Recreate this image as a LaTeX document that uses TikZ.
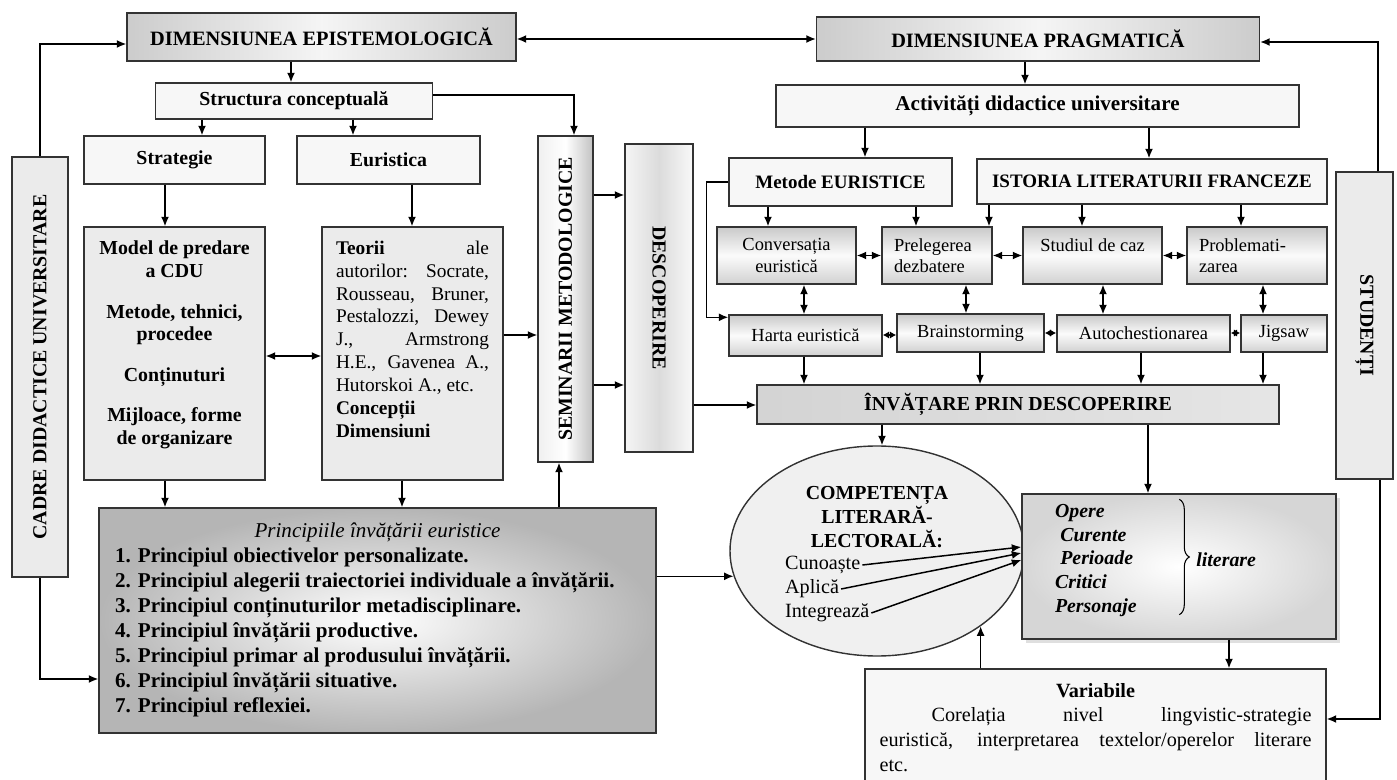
\documentclass[tikz,border=0pt]{standalone}
\usepackage{graphicx}
\usepackage{fontspec}
\setmainfont{Liberation Serif}
\usepackage{tikz}
\usetikzlibrary{arrows.meta,positioning,calc,shapes.geometric,shadows,decorations.pathreplacing}
\newcommand{\pxl}{0.02cm}
\newcommand{\jline}[1]{\makebox[\linewidth][s]{#1}}
\tikzset{
    sz/.style 2 args={minimum width=#1*\pxl, minimum height=#2*\pxl},
    base/.style={rectangle, draw=black!80, line width=0.8pt, inner sep=0pt, align=center,
                 font=\fontsize{11.3}{13}\selectfont\bfseries},
    lite/.style={base, fill=gray!6},
    dark/.style={base, fill=gray!16},
    head/.style={base, left color=gray!40, right color=gray!40, middle color=gray!8,
                 font=\fontsize{11.6}{13}\selectfont\bfseries},
    meth/.style={base, top color=gray!42, bottom color=gray!36, middle color=gray!3,
                 font=\fontsize{10.5}{12.2}\selectfont},
    vbar/.style={base, left color=gray!12, right color=gray!48, middle color=white},
    arr/.style={-{Latex[length=0.19cm,width=0.16cm]}, line width=0.85pt},
    dbl/.style={{Latex[length=0.19cm,width=0.16cm]}-{Latex[length=0.19cm,width=0.16cm]}, line width=0.85pt},
    sdbl/.style={{Latex[length=0.13cm,width=0.15cm]}-{Latex[length=0.13cm,width=0.15cm]}, line width=0.85pt},
    word/.style={inner sep=1pt, anchor=west, font=\fontsize{11.5}{13}\selectfont},
}
\begin{document}
\begin{tikzpicture}[x=0.02cm, y=-0.02cm]
    \useasboundingbox (0,0) rectangle (1397,780);

    \node[head, sz={389}{48}] (epist) at (321.5,37) {DIMENSIUNEA EPISTEMOLOGICĂ};
    \node[head, sz={443}{44}] (prag)  at (1038,39)  {DIMENSIUNEA PRAGMATICĂ};
    \node[lite, sz={277}{36}] (struct) at (294,101) {Structura conceptuală};
    \node[lite, sz={181}{48}] (strat) at (174.5,160) {Strategie};
    \node[lite, sz={183}{48}] (eur)   at (388.5,160) {Euristica};
    \node[dark, sz={181}{253}] (model) at (174.5,353.5)
        {\parbox[c][4.5cm][t]{3.4cm}{\centering Model de predare\\ a CDU\\[10pt]
         Metode, tehnici,\\ procedee\\[10pt] Conținuturi\\[10pt] Mijloace, forme\\ de organizare}};
    \node[dark, sz={181}{253}, font=\fontsize{11}{13}\selectfont] (teorii) at (412.5,353.5)
        {\parbox[c][4.5cm][t]{3.06cm}{\jline{\textbf{Teorii} ale}\\ \jline{autorilor: Socrate,}\\
         \jline{Rousseau, Bruner,}\\ \jline{Pestalozzi, Dewey}\\ \jline{J., Armstrong}\\
         \jline{H.E., Gavenea A.,}\\ Hutorskoi A., etc.\\ \textbf{Concepții}\\ \textbf{Dimensiuni}}};
    \node[base, sz={557}{225}, inner color=white, outer color=gray!58,
          font=\fontsize{12}{14.2}\selectfont] (princ) at (377.5,620.5)
        {\parbox[c][3.9cm][t]{10.5cm}{\centering\itshape Principiile învățării euristice\par
         \raggedright\upshape\bfseries
         1. Principiul obiectivelor personalizate.\\
         2. Principiul alegerii traiectoriei individuale a învățării.\\
         3. Principiul conținuturilor metadisciplinare.\\
         4. Principiul învățării productive.\\
         5. Principiul primar al produsului învățării.\\
         6. Principiul învățării situative.\\
         7. Principiul reflexiei.}};
    \node[dark, sz={56}{420}] (cadre) at (40,367) {\rotatebox{90}{CADRE DIDACTICE UNIVERSITARE}};
    \node[vbar, sz={55}{326}] (sem) at (565.5,299) {\rotatebox{90}{SEMINARII METODOLOGICE}};
    \node[base, sz={68}{308}, left color=gray!8, right color=gray!5, middle color=gray!28]
        (desc) at (659,298) {\rotatebox{-90}{DESCOPERIRE}};
    \node[dark, sz={57}{307}] (stud) at (1364.5,325.5) {\rotatebox{-90}{STUDENȚI}};

    \node[lite, sz={523}{42}, font=\fontsize{12}{13}\selectfont\bfseries] (activ) at (1037.5,106)
        {Activități didactice universitare};
    \node[lite, sz={223}{48}, font=\fontsize{10.8}{13}\selectfont\bfseries] (metode) at (840.5,182)
        {Metode EURISTICE};
    \node[lite, sz={350}{45}, font=\fontsize{10.8}{13}\selectfont\bfseries] (ist) at (1152,181.5)
        {ISTORIA LITERATURII FRANCEZE};
    \node[meth, sz={139}{57}] (conv) at (786.5,255.5) {Conversația\\ euristică};
    \node[meth, sz={110}{57}, text width=1.72cm, align=left] (preleg) at (937,255.5) {Prelegerea\\ dezbatere};
    \node[meth, sz={139}{57}] (studiul) at (1092.5,255.5) {Studiul de caz\\ \mbox{}};
    \node[meth, sz={140}{57}, text width=2.32cm, align=left] (problem) at (1257,255.5) {Problemati-\\ zarea};
    \node[meth, sz={153}{41}] (harta) at (805.5,335.5) {Harta euristică};
    \node[meth, sz={147}{38}] (brain) at (970.5,333) {Brainstorming};
    \node[meth, sz={173}{37}] (autoq) at (1143.5,333.5) {Autochestionarea};
    \node[meth, sz={86}{37}] (jigsaw) at (1284,333.5) {Jigsaw};
    \node[base, sz={522}{39}, left color=gray!34, right color=gray!20] (invat) at (1018,404.5)
        {ÎNVĂȚARE PRIN DESCOPERIRE};

    \node[ellipse, draw=black!80, line width=0.8pt, fill=gray!12, inner sep=0pt,
          minimum width=294*\pxl, minimum height=210*\pxl] (comp) at (877,551) {};
    \node[align=center, font=\fontsize{11.3}{13.6}\selectfont\bfseries] (comptit) at (877,517)
        {COMPETENȚA\\ LITERARĂ-\\ LECTORALĂ:};
    \node[word] (cun)   at (783,565) {Cunoaște};
    \node[word] (apl)   at (783,589) {Aplică};
    \node[word] (integ) at (783,613) {Integrează};
    \node[base, sz={314}{145}, inner color=white, outer color=gray!32,
          drop shadow={opacity=0.25, shadow xshift=2pt, shadow yshift=-2pt},
          font=\fontsize{11.3}{13.6}\selectfont\bfseries\itshape]
        (opere) at (1179,566.5)
        {\parbox[c][2.5cm][t]{4.96cm}{Opere\\ \hspace*{3pt}Curente\\ \hspace*{3pt}Perioade\\
         Critici\\ Personaje}};
    \draw[line width=0.6pt, decorate, decoration={brace, amplitude=0.2cm}]
        ($(opere.north west)+(158,6)$) -- ($(opere.south west)+(158,-25)$);
    \node[anchor=west, inner sep=1pt, font=\fontsize{11.3}{13}\selectfont\bfseries\itshape]
        (lit) at ($(opere.west)+(173,-7)$) {literare};
    \node[lite, sz={461}{113}, font=\fontsize{11.5}{14.2}\selectfont] (variab) at (1095.5,725.5)
        {\parbox[c][1.7cm][t]{8.64cm}{\centering\textbf{Variabile}\par\raggedright
         \jline{\hspace*{1.04cm}Corelația nivel lingvistic-strategie}\\
         \jline{euristică, interpretarea textelor/operelor literare}\\ etc.}};

    \draw[arr] (cadre.north) |- (epist.west |- 0,44);
    \draw[arr] (stud.north -| 1378,0) |- (prag.east |- 0,42);
    \draw[dbl] (epist.east |- 0,39) -- (prag.west |- 0,39);
    \draw[arr] (epist.south -| 291,0) -- (struct.north -| 291,0);
    \draw[arr] (struct.south -| 202,0) -- (strat.north -| 202,0);
    \draw[arr] (struct.south -| 353,0) -- (eur.north -| 353,0);
    \draw[arr] (struct.east |- 0,95) -| (sem.north -| 574,0);
    \draw[arr] (strat.south -| 165,0) -- (model.north -| 165,0);
    \draw[arr] (eur.south -| 412,0) -- (teorii.north -| 412,0);
    \draw[dbl] (model.east |- 0,356) -- (teorii.west |- 0,356);
    \draw[arr] (teorii.east |- 0,335) -- (sem.west |- 0,335);
    \draw[arr] (model.south -| 165,0) -- (princ.north -| 165,0);
    \draw[arr] (teorii.south -| 402,0) -- (princ.north -| 402,0);
    \draw[arr] (princ.north -| 559,0) -- (sem.south -| 559,0);
    \draw[arr] (cadre.south) |- (princ.west |- 0,679);
    \draw[arr] (princ.east |- comp.190) -- (comp.190);
    \draw[arr] (sem.east |- 0,195) -- (desc.west |- 0,195);
    \draw[arr] (sem.east |- 0,385) -- (desc.west |- 0,385);
    \draw[arr] (desc.east |- 0,405) -- (invat.west |- 0,405);

    \draw[arr] (prag.south -| 1025,0) -- (activ.north -| 1025,0);
    \draw[arr] (activ.south -| 865,0) -- (metode.north -| 865,0);
    \draw[arr] (activ.south -| 1149,0) -- (ist.north -| 1149,0);
    \draw[arr] (metode.west) -- ++(-22,0) |- ($(harta.north west)+(0,3)$);
    \draw[arr] (metode.south -| 768,0) -- (conv.north -| 768,0);
    \draw[arr] (metode.south -| 916,0) -- (preleg.north -| 916,0);
    \draw[arr] (ist.south -| 989,0) -- (preleg.north -| 989,0);
    \draw[arr] (ist.south -| 1082,0) -- (studiul.north -| 1082,0);
    \draw[arr] (ist.south -| 1241,0) -- (problem.north -| 1241,0);
    \draw[dbl] (conv) -- (preleg);
    \draw[dbl] (preleg) -- (studiul);
    \draw[dbl] (studiul) -- (problem);
    \draw[dbl] (conv.south -| 804,0) -- (harta.north -| 804,0);
    \draw[dbl] (preleg.south -| 966,0) -- (brain.north -| 966,0);
    \draw[dbl] (studiul.south -| 1103,0) -- (autoq.north -| 1103,0);
    \draw[dbl] (problem.south -| 1263,0) -- (jigsaw.north -| 1263,0);
    \draw[sdbl] (harta.east |- 0,335) -- (brain.west |- 0,335);
    \draw[sdbl] (brain.east |- 0,333) -- (autoq.west |- 0,333);
    \draw[sdbl] (autoq.east |- 0,333) -- (jigsaw.west |- 0,333);
    \draw[arr] (harta.south -| 804,0) -- (invat.north -| 804,0);
    \draw[arr] (brain.south -| 980,0) -- (invat.north -| 980,0);
    \draw[arr] (autoq.south -| 1141,0) -- (invat.north -| 1141,0);
    \draw[arr] (jigsaw.south -| 1263,0) -- (invat.north -| 1263,0);
    \draw[arr] (invat.south -| 882,0) -- (comp.north -| 882,0);
    \draw[arr] (invat.south -| 1148,0) -- (opere.north -| 1148,0);
    \draw[arr] (opere.south -| 1229,0) -- (variab.north -| 1229,0);
    \draw[arr] (variab.north -| comp.324) -- (comp.324);
    \draw[arr] (stud.south -| 1380,0) |- (variab.east |- 0,719);
    \draw[arr] (cun.east)   -- ($(opere.west)+(0,-19.5)$);
    \draw[arr] (apl.east)   -- ($(opere.west)+(0,-13.5)$);
    \draw[arr] (integ.east) -- ($(opere.west)+(0,-6.5)$);
\end{tikzpicture}
\end{document}
